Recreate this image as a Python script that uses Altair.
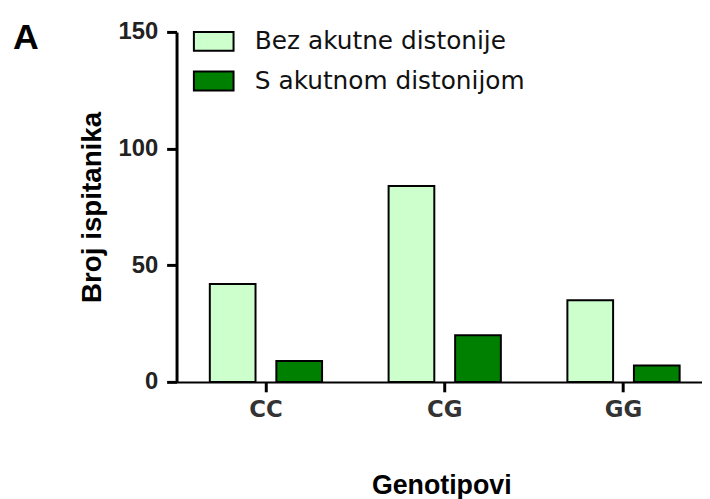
import altair as alt
import pandas as pd

genotypes = ["CC", "CG", "GG"]
groups = ["Bez akutne distonije", "S akutnom distonijom"]
bez_values = [42, 84, 35]
s_values = [9, 20, 7]

rows = []
for g, b, s in zip(genotypes, bez_values, s_values):
    rows.append({"genotip": g, "grupa": groups[0], "broj": b})
    rows.append({"genotip": g, "grupa": groups[1], "broj": s})
df = pd.DataFrame(rows)

bars = alt.Chart(df).mark_bar(stroke="black", strokeWidth=2, opacity=1).encode(
    x=alt.X(
        "genotip:N",
        sort=genotypes,
        scale=alt.Scale(domain=genotypes, range=[0, 541], paddingInner=0, paddingOuter=0),
        axis=alt.Axis(
            title="Genotipovi",
            labelAngle=0,
            domainColor="black",
            domainWidth=2,
            tickColor="black",
            tickWidth=3,
            tickSize=10,
            labelPadding=7,
            labelFont="DejaVu Sans",
            labelFontWeight="bold",
            labelFontSize=23,
            labelColor="#333333",
            titleFont="Liberation Sans",
            titleFontWeight="bold",
            titleFontSize=27,
            titleColor="black",
            titlePadding=52,
            titleX=267,
        ),
    ),
    xOffset=alt.XOffset(
        "grupa:N",
        sort=groups,
        scale=alt.Scale(domain=groups, paddingInner=0.313, paddingOuter=0.5),
    ),
    y=alt.Y(
        "broj:Q",
        scale=alt.Scale(domain=[0, 150], nice=False),
        axis=alt.Axis(
            title="Broj ispitanika",
            values=[0, 50, 100, 150],
            grid=False,
            domainColor="black",
            domainWidth=3,
            tickColor="black",
            tickWidth=3,
            tickSize=10,
            labelPadding=9,
            labelFont="Liberation Sans",
            labelFontWeight="bold",
            labelFontSize=24,
            labelColor="#222222",
            titleFont="Liberation Sans",
            titleFontWeight="bold",
            titleFontSize=28,
            titleColor="black",
            titlePadding=12,
        ),
    ),
    color=alt.Color(
        "grupa:N",
        sort=groups,
        scale=alt.Scale(domain=groups, range=["#CCFFCC", "#008000"]),
        legend=alt.Legend(
            title=None,
            orient="none",
            legendX=25,
            legendY=-3,
            symbolType="M-2,-0.95H2V0.95H-2Z",
            symbolSize=400,
            symbolStrokeColor="black",
            symbolStrokeWidth=2,
            symbolOpacity=1,
            labelFont="DejaVu Sans",
            labelFontSize=25,
            labelColor="#111111",
            labelOffset=29,
            rowPadding=13,
            labelLimit=400,
        ),
    ),
)

label_a = alt.Chart(pd.DataFrame({"t": ["A"]})).mark_text(
    align="left", baseline="alphabetic", font="Liberation Sans", fontWeight="bold", fontSize=36, color="black"
).encode(x=alt.value(-165), y=alt.value(17), text="t:N")

chart = alt.layer(bars, label_a).properties(
    width=530,
    height=353,
    autosize=alt.AutoSizeParams(type="none"),
    padding={"left": 170, "top": 22, "right": 0, "bottom": 118},
).configure_view(stroke=None)

chart.save("out.html", embed_options={"renderer": "svg", "actions": False})
